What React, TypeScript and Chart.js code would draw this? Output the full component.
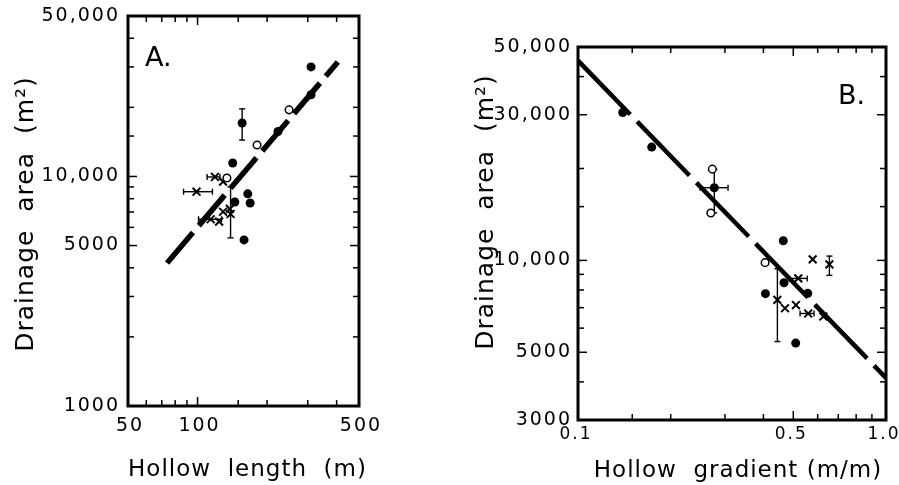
import React, { useEffect, useRef } from 'react';
import { Chart, registerables } from 'chart.js';

Chart.register(...registerables);

const FONT = '"DejaVu Sans", "Liberation Sans", sans-serif';

// ---------- Panel A: drainage area vs hollow length ----------
const aFilledLength = [310, 310, 223, 156, 142, 145, 165, 169, 159];
const aFilledArea = [30000, 22700, 15700, 17100, 11450, 7740, 8400, 7660, 5290];
const aOpenLength = [249, 181, 134];
const aOpenArea = [19500, 13700, 9850];
const aCrossLength = [119, 129, 99, 129, 138, 114, 124, 139];
const aCrossArea = [9950, 9490, 8580, 7020, 7220, 6510, 6360, 6860];
const aFitLength = [73.8, 405];
const aFitArea = [4200, 31500];
const aXErrArea = [9950, 8580, 6510];
const aXErrLow = [110, 87, 101];
const aXErrHigh = [125, 116, 127];
const aYErrLength = [156, 139];
const aYErrLow = [14400, 5400];
const aYErrHigh = [19700, 9000];
const aXTicks = [50, 60, 70, 80, 90, 100, 150, 200, 300, 400, 500];
const aXLabelValues = [50, 100, 500];
const aXLabels = ['50', '100', '500'];
const aYTicks = [1000, 2000, 3000, 4000, 5000, 6000, 7000, 8000, 9000, 10000, 15000, 20000, 30000, 40000, 50000];
const aYLabelValues = [1000, 5000, 10000, 50000];
const aYLabels = ['1000', '5000', '10,000', '50,000'];

// ---------- Panel B: drainage area vs hollow gradient ----------
const bFilledGradient = [0.1397, 0.1735, 0.277, 0.464, 0.4665, 0.406, 0.557, 0.509];
const bFilledArea = [30500, 23500, 17300, 11600, 8450, 7780, 7800, 5360];
const bOpenGradient = [0.273, 0.27, 0.405];
const bOpenArea = [19900, 14300, 9830];
const bCrossGradient = [0.578, 0.655, 0.519, 0.444, 0.47, 0.51, 0.559, 0.626];
const bCrossArea = [10080, 9700, 8730, 7420, 6970, 7140, 6700, 6550];
const bFitGradient = [0.1, 1.0];
const bFitArea = [45100, 4120];
const bXErrArea = [17300, 8730, 6700];
const bXErrLow = [0.249, 0.485, 0.526];
const bXErrHigh = [0.307, 0.555, 0.584];
const bYErrGradient = [0.277, 0.655, 0.444];
const bYErrLow = [14300, 8930, 5420];
const bYErrHigh = [19900, 10330, 9390];
const bXTicks = [0.1, 0.15, 0.2, 0.3, 0.4, 0.5, 0.6, 0.7, 0.8, 0.9, 1.0];
const bXLabelValues = [0.1, 0.5, 1.0];
const bXLabels = ['0.1', '0.5', '1.0'];
const bYTicks = [3000, 4000, 5000, 6000, 7000, 8000, 9000, 10000, 15000, 20000, 30000, 40000, 50000];
const bYLabelValues = [3000, 5000, 10000, 30000, 50000];
const bYLabels = ['3000', '5000', '10,000', '30,000', '50,000'];

const pts = (xs: number[], ys: number[]) => xs.map((x, i) => ({ x, y: ys[i] }));

function makeDecor(p: any) {
  return {
    id: 'decor',
    beforeDraw(chart: any) {
      chart.ctx.letterSpacing = '2px';
    },
    beforeDatasetsDraw(chart: any) {
      const { ctx } = chart;
      const x = chart.scales.x;
      const y = chart.scales.y;
      const cap = 3;
      ctx.save();
      ctx.strokeStyle = '#000';
      ctx.lineWidth = 1.4;
      const seg = (x1: number, y1: number, x2: number, y2: number) => {
        ctx.beginPath();
        ctx.moveTo(x1, y1);
        ctx.lineTo(x2, y2);
        ctx.stroke();
      };
      p.xErrY.forEach((v: number, i: number) => {
        const py = y.getPixelForValue(v);
        const x1 = x.getPixelForValue(p.xErrLo[i]);
        const x2 = x.getPixelForValue(p.xErrHi[i]);
        seg(x1, py, x2, py);
        seg(x1, py - cap, x1, py + cap);
        seg(x2, py - cap, x2, py + cap);
      });
      p.yErrX.forEach((v: number, i: number) => {
        const px = x.getPixelForValue(v);
        const y1 = y.getPixelForValue(p.yErrLo[i]);
        const y2 = y.getPixelForValue(p.yErrHi[i]);
        seg(px, y1, px, y2);
        seg(px - cap, y1, px + cap, y1);
        seg(px - cap, y2, px + cap, y2);
      });
      ctx.restore();
    },
    afterDraw(chart: any) {
      const { ctx, chartArea } = chart;
      const { left, right, top, bottom } = chartArea;
      const x = chart.scales.x;
      const y = chart.scales.y;
      ctx.save();
      ctx.strokeStyle = '#000';
      ctx.lineWidth = 1.5;
      const seg = (x1: number, y1: number, x2: number, y2: number) => {
        ctx.beginPath();
        ctx.moveTo(x1, y1);
        ctx.lineTo(x2, y2);
        ctx.stroke();
      };
      p.xTicks.forEach((v: number) => {
        const px = x.getPixelForValue(v);
        const len = p.xLabelValues.includes(v) ? 9 : 6;
        seg(px, bottom, px, bottom - len);
        seg(px, top, px, top + len);
      });
      p.yTicks.forEach((v: number) => {
        const py = y.getPixelForValue(v);
        const len = p.yLabelValues.includes(v) ? 9 : 6;
        seg(left, py, left + len, py);
        seg(right, py, right - len, py);
      });
      ctx.lineWidth = 3;
      ctx.strokeRect(left, top, right - left, bottom - top);

      ctx.fillStyle = '#000';
      ctx.textAlign = 'center';
      ctx.textBaseline = 'alphabetic';
      ctx.letterSpacing = '1px';
      ctx.font = `23px ${FONT}`;
      ctx.fillText(p.xTitle, (left + right) / 2 + p.xTitleShift, p.xTitleBaseline);
      ctx.font = `25px ${FONT}`;
      ctx.save();
      ctx.translate(p.yTitleBaselineX, p.yTitleCenterY);
      ctx.rotate(-Math.PI / 2);
      ctx.fillText(p.yTitle, 0, 0);
      ctx.restore();
      ctx.letterSpacing = '0px';
      ctx.textAlign = 'left';
      ctx.font = `27px ${FONT}`;
      ctx.fillText(p.letter, p.letterX, p.letterY);
      ctx.restore();
    },
  };
}

function buildConfig(p: any) {
  const labelOf = (vals: number[], texts: string[]) => (v: number) => {
    const i = vals.findIndex((t) => Math.abs(t - v) < 1e-9);
    return i >= 0 ? texts[i] : '';
  };
  return {
    type: 'scatter',
    data: {
      datasets: [
        {
          data: pts(p.filledX, p.filledY),
          pointStyle: 'circle',
          pointRadius: 4.5,
          backgroundColor: '#000',
          borderColor: '#000',
          borderWidth: 0,
          order: 1,
        },
        {
          data: pts(p.openX, p.openY),
          pointStyle: 'circle',
          pointRadius: 3.8,
          backgroundColor: '#fff',
          borderColor: '#000',
          borderWidth: 1.5,
          order: 1,
        },
        {
          data: pts(p.crossX, p.crossY),
          pointStyle: 'crossRot',
          pointRadius: 5.5,
          backgroundColor: '#000',
          borderColor: '#000',
          borderWidth: 2,
          order: 1,
        },
        {
          data: pts(p.fitX, p.fitY),
          showLine: true,
          borderColor: '#000',
          borderWidth: p.lineWidth,
          borderDash: p.dash,
          borderCapStyle: 'butt',
          pointRadius: 0,
          order: 2,
        },
      ],
    },
    options: {
      responsive: false,
      animation: false,
      events: [],
      layout: { padding: { left: 0, top: p.padTop, right: p.padRight, bottom: 0 } },
      plugins: { legend: { display: false }, tooltip: { enabled: false } },
      scales: {
        x: {
          type: 'logarithmic',
          position: 'bottom',
          min: p.xMin,
          max: p.xMax,
          grid: { display: false, drawTicks: false },
          border: { display: false },
          afterBuildTicks: (s: any) => {
            s.ticks = p.xTicks.map((v: number) => ({ value: v }));
          },
          afterFit: (s: any) => {
            s.height = p.xAxisHeight;
            s.paddingLeft = 0;
            s.paddingRight = 0;
          },
          ticks: {
            autoSkip: false,
            maxRotation: 0,
            minRotation: 0,
            padding: p.xTickPad,
            labelOffset: p.xLabelOffset,
            color: '#000',
            font: { family: FONT, size: p.xTickSize },
            callback: labelOf(p.xLabelValues, p.xLabels),
          },
        },
        y: {
          type: 'logarithmic',
          position: 'left',
          min: p.yMin,
          max: p.yMax,
          grid: { display: false, drawTicks: false },
          border: { display: false },
          afterBuildTicks: (s: any) => {
            s.ticks = p.yTicks.map((v: number) => ({ value: v }));
          },
          afterFit: (s: any) => {
            s.width = p.yAxisWidth;
            s.paddingTop = 0;
            s.paddingBottom = 0;
          },
          ticks: {
            autoSkip: false,
            padding: p.yTickPad,
            color: '#000',
            font: { family: FONT, size: 19 },
            callback: labelOf(p.yLabelValues, p.yLabels),
          },
        },
      },
    },
    plugins: [makeDecor(p)],
  };
}

const panelA = {
  filledX: aFilledLength, filledY: aFilledArea,
  openX: aOpenLength, openY: aOpenArea,
  crossX: aCrossLength, crossY: aCrossArea,
  fitX: aFitLength, fitY: aFitArea,
  xErrY: aXErrArea, xErrLo: aXErrLow, xErrHi: aXErrHigh,
  yErrX: aYErrLength, yErrLo: aYErrLow, yErrHi: aYErrHigh,
  xTicks: aXTicks, xLabelValues: aXLabelValues, xLabels: aXLabels,
  yTicks: aYTicks, yLabelValues: aYLabelValues, yLabels: aYLabels,
  xMin: 50, xMax: 500, yMin: 1000, yMax: 50000,
  padTop: 16, padRight: 81, xAxisHeight: 79, yAxisWidth: 128,
  xTickPad: 9, yTickPad: 8, xTickSize: 19, xLabelOffset: 2,
  lineWidth: 5.5, dash: [40, 9],
  xTitle: 'Hollow  length  (m)', xTitleShift: 4, xTitleBaseline: 476,
  yTitle: 'Drainage  area  (m²)', yTitleBaselineX: 33, yTitleCenterY: 214,
  letter: 'A.', letterX: 145, letterY: 66,
};

const panelB = {
  filledX: bFilledGradient, filledY: bFilledArea,
  openX: bOpenGradient, openY: bOpenArea,
  crossX: bCrossGradient, crossY: bCrossArea,
  fitX: bFitGradient, fitY: bFitArea,
  xErrY: bXErrArea, xErrLo: bXErrLow, xErrHi: bXErrHigh,
  yErrX: bYErrGradient, yErrLo: bYErrLow, yErrHi: bYErrHigh,
  xTicks: bXTicks, xLabelValues: bXLabelValues, xLabels: bXLabels,
  yTicks: bYTicks, yLabelValues: bYLabelValues, yLabels: bYLabels,
  xMin: 0.1, xMax: 1.0, yMin: 3000, yMax: 50000,
  padTop: 47, padRight: 13, xAxisHeight: 65, yAxisWidth: 138,
  xTickPad: 4, yTickPad: 6, xTickSize: 17, xLabelOffset: -2,
  lineWidth: 4.5, dash: [75, 10],
  xTitle: 'Hollow  gradient (m/m)', xTitleShift: 6, xTitleBaseline: 477,
  yTitle: 'Drainage  area  (m²)', yTitleBaselineX: 53, yTitleCenterY: 212,
  letter: 'B.', letterX: 398, letterY: 104,
};

function Panel({ p, left, width }: { p: any; left: number; width: number }) {
  const ref = useRef<HTMLCanvasElement>(null);
  useEffect(() => {
    if (!ref.current) return;
    const chart = new Chart(ref.current, buildConfig(p) as any);
    return () => chart.destroy();
  }, [p]);
  return (
    <canvas
      ref={ref}
      width={width}
      height={485}
      style={{ position: 'absolute', left, top: 0, width, height: 485 }}
    />
  );
}

export default function App() {
  return (
    <div
      style={{
        position: 'absolute',
        left: 0,
        top: 0,
        width: 899,
        height: 485,
        overflow: 'hidden',
        background: '#fff',
      }}
    >
      <Panel p={panelA} left={0} width={440} />
      <Panel p={panelB} left={440} width={459} />
    </div>
  );
}
